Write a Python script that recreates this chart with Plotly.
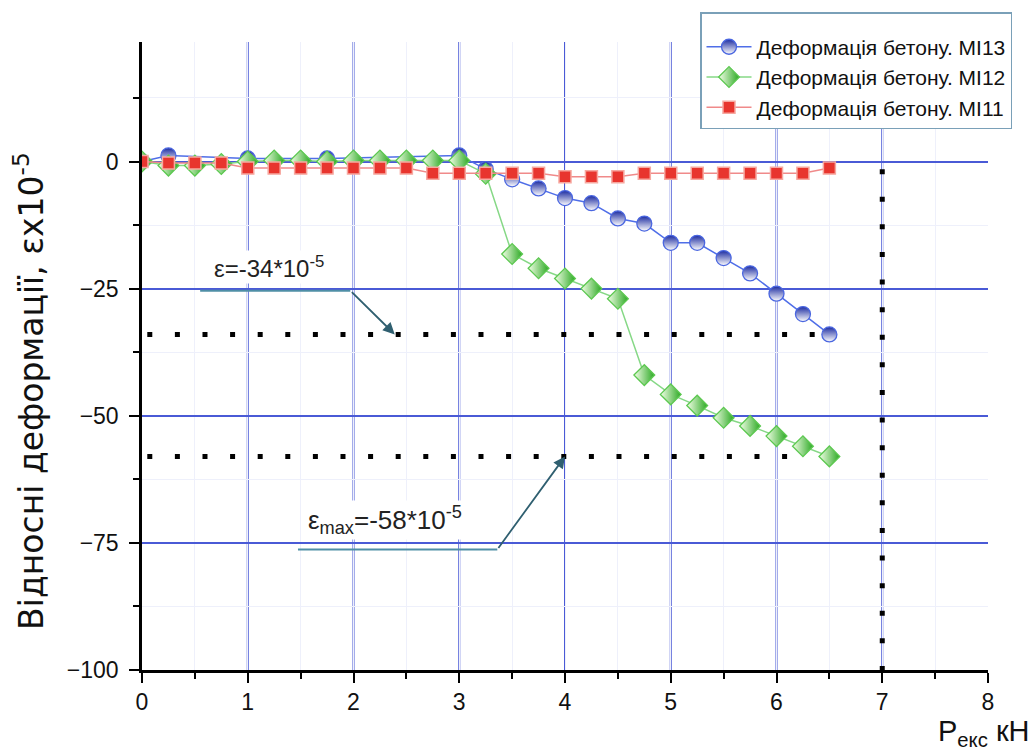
import plotly.graph_objects as go

# ---- data ----
x_mi13 = [0, 0.25, 1.0, 1.75, 3.0, 3.25, 3.5, 3.75, 4.0, 4.25, 4.5, 4.75, 5.0,
          5.25, 5.5, 5.75, 6.0, 6.25, 6.5]
y_mi13 = [0, 1.2, 0.6, 0.6, 1.2, -1.5, -3.5, -5.3, -7.2, -8.2, -11.2, -12.2, -16,
          -16, -19, -22, -26, -30, -34]

x_mi12 = [0, 0.25, 0.5, 0.75, 1.0, 1.25, 1.5, 1.75, 2.0, 2.25, 2.5, 2.75, 3.0,
          3.25, 3.5, 3.75, 4.0, 4.25, 4.5, 4.75, 5.0, 5.25, 5.5, 5.75, 6.0, 6.25, 6.5]
y_mi12 = [0, -0.8, -0.8, -0.5, 0, 0.2, 0.2, 0, 0.2, 0.2, 0.2, 0.2, 0.2,
          -2.4, -18.2, -21, -23, -25, -27, -42, -45.8, -48, -50.4, -52, -54, -56, -58]

x_mi11 = [0, 0.25, 0.5, 0.75, 1.0, 1.25, 1.5, 1.75, 2.0, 2.25, 2.5, 2.75, 3.0,
          3.25, 3.5, 3.75, 4.0, 4.25, 4.5, 4.75, 5.0, 5.25, 5.5, 5.75, 6.0, 6.25, 6.5]
y_mi11 = [0, -0.3, -0.3, -0.3, -1.3, -1.3, -1.3, -1.3, -1.3, -1.3, -1.3, -2.3, -2.3,
          -2.3, -2.3, -2.3, -3.0, -3.0, -3.0, -2.3, -2.3, -2.3, -2.3, -2.3, -2.3, -2.3, -1.3]

names = ["Деформація бетону. МІ13", "Деформація бетону. МІ12", "Деформація бетону. МІ11"]

x_ticks = [0, 1, 2, 3, 4, 5, 6, 7, 8]
y_ticks = [0, -25, -50, -75, -100]
y_ticklabels = ["0", "−25", "−50", "−75", "−100"]
x_grid = [1, 2, 3, 4, 5, 6, 7]

eps_limit = -34     # ε = -34*10^-5
eps_max = -58       # ε_max = -58*10^-5
p_limit = 7         # vertical reference load
x_end_34 = 6.5
x_end_58 = 6.3

FONT = "Liberation Sans, Arial, sans-serif"
GRID = "#4a5ad6"

fig = go.Figure()

fig.add_trace(go.Scatter(
    x=x_mi13, y=y_mi13, name=names[0], mode="lines+markers",
    line=dict(color="#4f6ee8", width=1.5),
    marker=dict(symbol="circle", size=15, color="#1a2aa0",
                gradient=dict(type="vertical", color="white"),
                line=dict(color="#4a66e0", width=1.3))))
fig.add_trace(go.Scatter(
    x=x_mi12, y=y_mi12, name=names[1], mode="lines+markers",
    line=dict(color="#86d886", width=1.5),
    marker=dict(symbol="diamond", size=16, color="#f4ffe8",
                gradient=dict(type="horizontal", color="#2aa822"),
                line=dict(color="#5cc850", width=1.3))))
fig.add_trace(go.Scatter(
    x=x_mi11, y=y_mi11, name=names[2], mode="lines+markers",
    line=dict(color="#f08a8a", width=1.5),
    marker=dict(symbol="square", size=12, color="#e8352e",
                line=dict(color="#f6a8a0", width=1.5))))

shapes = []
# vertical grid lines (no line at right edge)
for gx in x_grid:
    shapes.append(dict(type="line", xref="x", yref="y", x0=gx, x1=gx, y0=-100, y1=23.5,
                       line=dict(color=GRID, width=2), layer="below"))
# dotted reference lines
dot = "5px,22.6px"
shapes.append(dict(type="line", xref="x", yref="y", x0=0.05, x1=x_end_34, y0=eps_limit, y1=eps_limit,
                   line=dict(color="black", width=5, dash=dot)))
shapes.append(dict(type="line", xref="x", yref="y", x0=0.05, x1=x_end_58, y0=eps_max, y1=eps_max,
                   line=dict(color="black", width=5, dash=dot)))
shapes.append(dict(type="line", xref="x", yref="y", x0=p_limit, x1=p_limit, y0=-1.5, y1=-100,
                   line=dict(color="black", width=5, dash=dot)))
# annotation underlines
LEAD = "#4f8fa6"
shapes.append(dict(type="line", xref="x", yref="y", x0=0.55, x1=1.97, y0=-25.4, y1=-25.4,
                   line=dict(color=LEAD, width=2)))
shapes.append(dict(type="line", xref="x", yref="y", x0=1.475, x1=3.36, y0=-76.3, y1=-76.3,
                   line=dict(color=LEAD, width=2)))

L, R, T, B = 142, 47, 40, 85
W, H = 1035, 755
pw, ph = W - L - R, H - T - B

annotations = [
    dict(x=2.39, y=eps_limit, xref="x", yref="y", ax=1.97, ay=-25.4, axref="x", ayref="y",
         showarrow=True, arrowhead=2, arrowsize=1.3, arrowwidth=1.8, arrowcolor="#2f5f70",
         text=""),
    dict(x=4.0, y=eps_max, xref="x", yref="y", ax=3.36, ay=-76.3, axref="x", ayref="y",
         showarrow=True, arrowhead=2, arrowsize=1.3, arrowwidth=1.8, arrowcolor="#2f5f70",
         text=""),
    dict(x=1.2, y=-20.8, xref="x", yref="y", showarrow=False,
         text="ε=-34*10<sup>-5</sup>", font=dict(family=FONT, size=24, color="#222"),
         bgcolor="white"),
    dict(x=2.3, y=-70.5, xref="x", yref="y", showarrow=False,
         text="ε<sub>max</sub>=-58*10<sup>-5</sup>", font=dict(family=FONT, size=26, color="#222"),
         bgcolor="white"),
    dict(x=(30 - L) / pw, y=(H - 390 - B) / ph, xref="paper", yref="paper",
         xanchor="center", yanchor="middle", showarrow=False, textangle=-90,
         text="Відносні деформації, εx10<sup>-5</sup>",
         font=dict(family="DejaVu Sans, sans-serif", size=33, color="#111")),
    dict(x=(1032 - L) / pw, y=(H - 753 - B) / ph, xref="paper", yref="paper",
         showarrow=False, xanchor="right", yanchor="bottom",
         text="P<sub>екс</sub> кН", font=dict(family=FONT, size=29, color="#111")),
]

fig.update_layout(
    width=W, height=H,
    margin=dict(l=L, r=R, t=T, b=B),
    paper_bgcolor="white", plot_bgcolor="white",
    font=dict(family=FONT, size=21, color="#111"),
    shapes=shapes, annotations=annotations,
    legend=dict(x=(700 - L) / pw, y=(H - 10 - B) / ph, xanchor="left", yanchor="top",
                bgcolor="white", bordercolor="#7aa0b8", borderwidth=1.5,
                font=dict(family=FONT, size=21, color="#111"), itemwidth=45,
                title=dict(text=" ", font=dict(size=10))),
)
fig.update_xaxes(
    range=[0, 8], tickvals=x_ticks, ticktext=[str(v) for v in x_ticks],
    showgrid=False, zeroline=False,
    showline=True, linecolor="black", linewidth=2.5,
    ticks="outside", ticklen=10, tickwidth=2, tickcolor="black",
    minor=dict(dtick=0.5, ticks="outside", ticklen=6, tickwidth=1.5, tickcolor="black",
               showgrid=True, gridcolor="#eef0fb", gridwidth=1),
    tickfont=dict(family=FONT, size=23),
)
fig.update_yaxes(
    range=[-100, 23.5], tickvals=y_ticks, ticktext=y_ticklabels,
    showgrid=True, gridcolor=GRID, gridwidth=1.5, zeroline=False,
    showline=True, linecolor="black", linewidth=2.5,
    ticks="outside", ticklen=10, tickwidth=2, tickcolor="black",
    minor=dict(tickvals=[12.5, -12.5, -37.5, -62.5, -87.5], ticks="outside", ticklen=6,
               tickwidth=1.5, tickcolor="black", showgrid=True, gridcolor="#eef0fb", gridwidth=1),
    ticklabelstandoff=6,
    tickfont=dict(family=FONT, size=23),
)

fig.write_html("out.html")
